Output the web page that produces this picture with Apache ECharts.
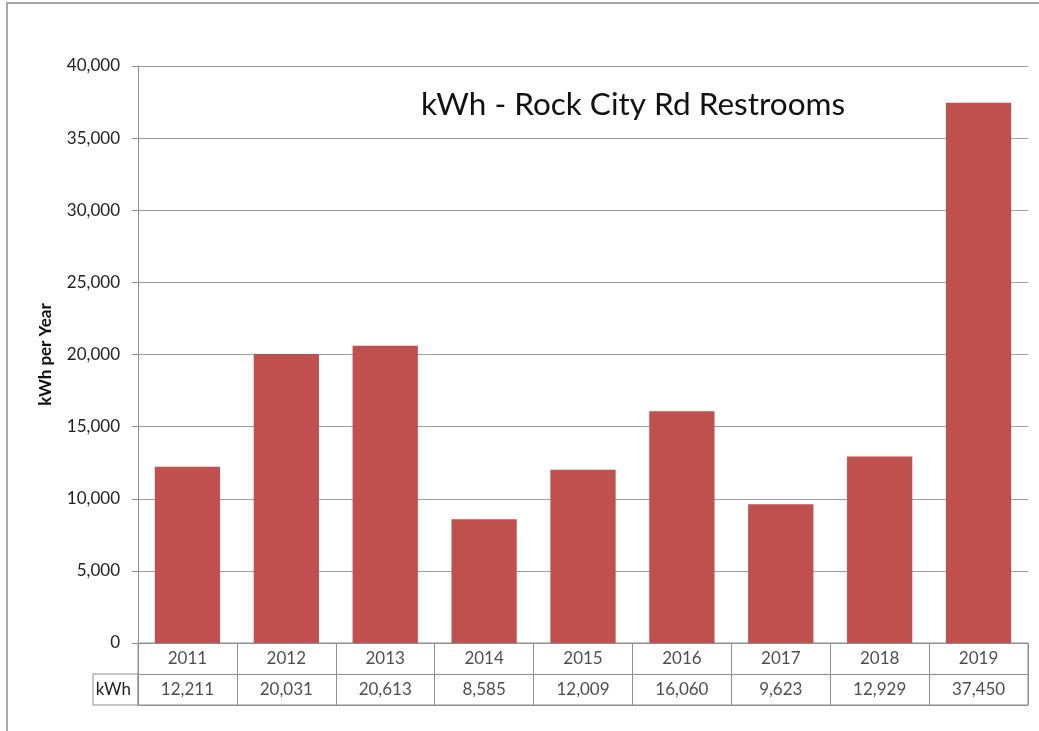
<!DOCTYPE html>
<html>
<head>
<meta charset="utf-8">
<script src="https://cdn.jsdelivr.net/npm/echarts@6/dist/echarts.min.js"></script>
<style>
html, body { margin: 0; padding: 0; background: #fff; }
#chart { width: 1039px; height: 731px; }
</style>
</head>
<body>
<div id="chart"></div>
<script>
// data (the data table gives the exact values)
var years = ["2011", "2012", "2013", "2014", "2015", "2016", "2017", "2018", "2019"];
var kwh = [12211, 20031, 20613, 8585, 12009, 16060, 9623, 12929, 37450];
var yTicks = [0, 5000, 10000, 15000, 20000, 25000, 30000, 35000, 40000];
var tableRows = ["kWh", "year"];

var font = "Lato, 'Open Sans', sans-serif";
var lineGray = "#8f8f8f";

function fmt(v) {
	return String(v).replace(/\B(?=(\d{3})+(?!\d))/g, ",");
}

var tableData = [];
for (var i = 0; i < years.length; i++) {
	tableData.push({ value: [years[i], "year"], txt: years[i] });
	tableData.push({ value: [years[i], "kWh"], txt: fmt(kwh[i]) });
}

var e = echarts.init(document.getElementById("chart")),
a = {
	animation: false,
	title: {
		text: "kWh - Rock City Rd Restrooms",
		left: 628,
		top: 84,
		textAlign: "center",
		textStyle: { fontFamily: font, fontSize: 31.5, fontWeight: "normal", color: "#111" }
	},
	graphic: [{
		type: "rect",
		shape: { x: 7, y: 3, width: 1100, height: 1000 },
		style: { fill: "none", stroke: "#a6a6a6", lineWidth: 2 },
		silent: true
	}, {
		type: "rect",
		shape: { x: 93, y: 674, width: 45, height: 31 },
		style: { fill: "none", stroke: lineGray, lineWidth: 1 },
		silent: true
	}],
	grid: [{
		left: 138, top: 66, width: 890, height: 577
	}, {
		left: 138, top: 643, width: 890, height: 62,
		show: true, borderColor: lineGray, borderWidth: 1
	}],
	xAxis: [{
		type: "category",
		data: years,
		gridIndex: 0,
		axisLine: { show: true, lineStyle: { color: lineGray } },
		axisTick: { show: false },
		axisLabel: { show: false }
	}, {
		type: "category",
		data: years,
		gridIndex: 1,
		axisLine: { show: false },
		axisTick: { show: false },
		axisLabel: { show: false },
		splitLine: { show: true, lineStyle: { color: lineGray } }
	}],
	yAxis: [{
		type: "value",
		gridIndex: 0,
		min: yTicks[0],
		max: yTicks[yTicks.length - 1],
		interval: 5000,
		name: "kWh per Year",
		nameLocation: "middle",
		nameGap: 84,
		nameTextStyle: { fontFamily: font, fontSize: 17, fontWeight: "bold", color: "#111" },
		axisLine: { show: true, lineStyle: { color: lineGray } },
		axisTick: { show: true, length: 6, lineStyle: { color: lineGray } },
		axisLabel: {
			margin: 18,
			fontFamily: font, fontSize: 17, color: "#222",
			formatter: function(v) { return fmt(v); }
		},
		splitLine: { show: true, lineStyle: { color: "#a0a0a0" } }
	}, {
		type: "category",
		gridIndex: 1,
		data: tableRows,
		axisLine: { show: false },
		axisTick: { show: false },
		axisLabel: {
			margin: 7,
			fontFamily: font, fontSize: 17, color: "#222",
			formatter: function(v) { return v === "kWh" ? v : ""; }
		},
		splitLine: { show: true, lineStyle: { color: lineGray } }
	}],
	series: [{
		type: "bar",
		xAxisIndex: 0,
		yAxisIndex: 0,
		data: kwh,
		barCategoryGap: "34%",
		itemStyle: { color: "#c0504d" }
	}, {
		type: "scatter",
		xAxisIndex: 1,
		yAxisIndex: 1,
		data: tableData,
		symbolSize: 1,
		itemStyle: { color: "rgba(0,0,0,0)" },
		label: {
			show: true,
			position: "inside",
			fontFamily: font, fontSize: 17, color: "#222",
			formatter: function(p) { return p.data.txt; }
		},
		silent: true
	}]
};
e.setOption(a);
window.addEventListener("resize", e.resize);
</script>
</body>
</html>
